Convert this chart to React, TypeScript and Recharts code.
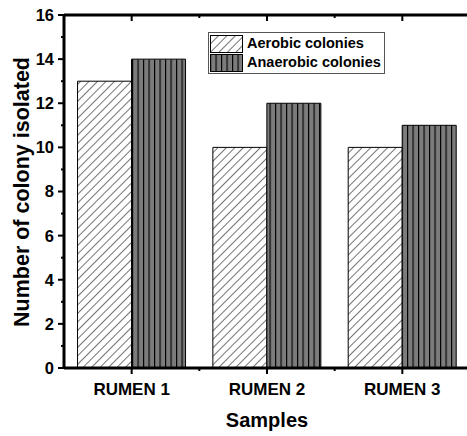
import { BarChart, Bar, XAxis, YAxis, Legend } from 'recharts';

const samples = ['RUMEN 1', 'RUMEN 2', 'RUMEN 3'];
const aerobic = [13, 10, 10];
const anaerobic = [14, 12, 11];
const yTicks = [0, 1, 2, 3, 4, 5, 6, 7, 8, 9, 10, 11, 12, 13, 14, 15, 16];
const seriesNames = ['Aerobic colonies', 'Anaerobic colonies'];

const data = samples.map((s, i) => ({ name: s, aerobic: aerobic[i], anaerobic: anaerobic[i] }));

const FONT = '"Liberation Sans", Arial, sans-serif';
const W = 467;
const H = 436;
const PLOT_LEFT = 64;
const PLOT_RIGHT = 470;
const PLOT_TOP = 15;
const PLOT_BOTTOM = 368;
const BAND = (PLOT_RIGHT - PLOT_LEFT) / samples.length;

const Patterns = ({ prefix }: { prefix: string }) => (
  <defs>
    <pattern id={prefix + 'hatch'} width={6} height={6} patternUnits="userSpaceOnUse" patternTransform="rotate(45)">
      <rect width={6} height={6} fill="#fff" />
      <line x1={0} y1={0} x2={0} y2={6} stroke="#000" strokeWidth={1.1} />
    </pattern>
    <pattern id={prefix + 'vert'} width={5.5} height={10} patternUnits="userSpaceOnUse">
      <rect width={5.5} height={10} fill="#7c7c7c" />
      <line x1={0.5} y1={0} x2={0.5} y2={10} stroke="#000" strokeWidth={1.3} />
    </pattern>
  </defs>
);

const LeftTick = (props: any) => {
  const { x, y, payload } = props;
  const v = payload.value;
  if (v % 2) return <line x1={x} x2={x - 3} y1={y} y2={y} stroke="#000" strokeWidth={2} />;
  return (
    <g>
      <line x1={x} x2={x - 6} y1={y} y2={y} stroke="#000" strokeWidth={2} />
      <text x={x - 10} y={y} dy="0.36em" textAnchor="end" fontSize={16.5} fontWeight="bold" fontFamily={FONT} fill="#000">
        {v}
      </text>
    </g>
  );
};

const RightTick = (props: any) => {
  const { x, y, payload } = props;
  const v = payload.value;
  const len = v % 2 ? 3 : 5;
  return <line x1={x - 3} x2={x - 3 - len} y1={y} y2={y} stroke="#000" strokeWidth={2} />;
};

const BottomTick = (props: any) => {
  const { x, y, payload, index } = props;
  return (
    <g>
      <line x1={x} x2={x} y1={y} y2={y + 6} stroke="#000" strokeWidth={2} />
      {index < samples.length - 1 && (
        <line x1={x + BAND / 2} x2={x + BAND / 2} y1={y} y2={y + 3} stroke="#000" strokeWidth={2} />
      )}
      <text x={x} y={y + 27} textAnchor="middle" fontSize={17} fontWeight="bold" fontFamily={FONT} fill="#000">
        {payload.value}
      </text>
    </g>
  );
};

const TopTick = (props: any) => {
  const { x, y, index } = props;
  return (
    <g>
      <line x1={x} x2={x} y1={y} y2={y + 6} stroke="#000" strokeWidth={2} />
      {index < samples.length - 1 && (
        <line x1={x + BAND / 2} x2={x + BAND / 2} y1={y} y2={y + 3} stroke="#000" strokeWidth={2} />
      )}
    </g>
  );
};

const LegendBox = () => (
  <div
    style={{
      border: '1px solid #555',
      background: '#fff',
      padding: '1px 3px 1px 1px',
      fontFamily: FONT,
      fontWeight: 'bold',
      fontSize: 14.5,
      color: '#000',
      lineHeight: '19px',
    }}
  >
    <svg width={0} height={0} style={{ position: 'absolute' }}>
      <Patterns prefix="lg-" />
    </svg>
    {seriesNames.map((n, i) => (
      <div key={n} style={{ display: 'flex', alignItems: 'center', height: 19 }}>
        <svg width={33} height={18} style={{ marginRight: 4 }}>
          <rect x={0.5} y={0.5} width={32} height={17} fill={i === 0 ? 'url(#lg-hatch)' : 'url(#lg-vert)'} stroke="#000" />
        </svg>
        <span>{n}</span>
      </div>
    ))}
  </div>
);

export default function App() {
  return (
    <div style={{ position: 'absolute', left: 0, top: 0, width: W, height: H, background: '#fff', overflow: 'hidden' }}>
      <BarChart
        width={W}
        height={H}
        data={data}
        margin={{ top: PLOT_TOP - 1, right: W - PLOT_RIGHT - 1, left: 0, bottom: 0 }}
        barCategoryGap="10%"
        barGap={0}
      >
        <Patterns prefix="ch-" />
        <XAxis
          dataKey="name"
          xAxisId="bottom"
          height={H - PLOT_BOTTOM}
          axisLine={{ stroke: '#000', strokeWidth: 3 }}
          tickLine={false}
          tickSize={0}
          tickMargin={0}
          tick={<BottomTick />}
          interval={0}
          label={{
            content: () => (
              <text
                x={(PLOT_LEFT + PLOT_RIGHT) / 2}
                y={427}
                textAnchor="middle"
                fontSize={20}
                fontWeight="bold"
                fontFamily={FONT}
                fill="#000"
              >
                Samples
              </text>
            ),
          }}
        />
        <XAxis
          dataKey="name"
          xAxisId="top"
          orientation="top"
          height={1}
          axisLine={{ stroke: '#000', strokeWidth: 3 }}
          tickLine={false}
          tickSize={0}
          tickMargin={0}
          tick={<TopTick />}
          interval={0}
        />
        <YAxis
          yAxisId="left"
          width={PLOT_LEFT}
          domain={[0, 16]}
          ticks={yTicks}
          interval={0}
          axisLine={{ stroke: '#000', strokeWidth: 3 }}
          tickLine={false}
          tickSize={0}
          tickMargin={0}
          tick={<LeftTick />}
          label={{
            content: () => (
              <text
                x={29}
                y={192}
                transform="rotate(-90, 29, 192)"
                textAnchor="middle"
                fontSize={21.5}
                fontWeight="bold"
                fontFamily={FONT}
                fill="#000"
              >
                Number of colony isolated
              </text>
            ),
          }}
        />
        <YAxis
          yAxisId="right"
          orientation="right"
          width={1}
          domain={[0, 16]}
          ticks={yTicks.filter((t) => t % 2 === 0)}
          interval={0}
          axisLine={{ stroke: '#000', strokeWidth: 3 }}
          tickLine={false}
          tickSize={0}
          tickMargin={0}
          tick={<RightTick />}
        />
        <Legend
          layout="vertical"
          align="center"
          verticalAlign="middle"
          content={() => <LegendBox />}
          wrapperStyle={{ position: 'absolute', left: 208, top: 32, width: 'auto', height: 'auto' }}
        />
        <Bar
          dataKey="aerobic"
          name={seriesNames[0]}
          xAxisId="bottom"
          yAxisId="left"
          fill="url(#ch-hatch)"
          stroke="#000"
          strokeWidth={1}
          isAnimationActive={false}
        />
        <Bar
          dataKey="anaerobic"
          name={seriesNames[1]}
          xAxisId="bottom"
          yAxisId="left"
          fill="url(#ch-vert)"
          stroke="#000"
          strokeWidth={1}
          isAnimationActive={false}
        />
      </BarChart>
    </div>
  );
}
